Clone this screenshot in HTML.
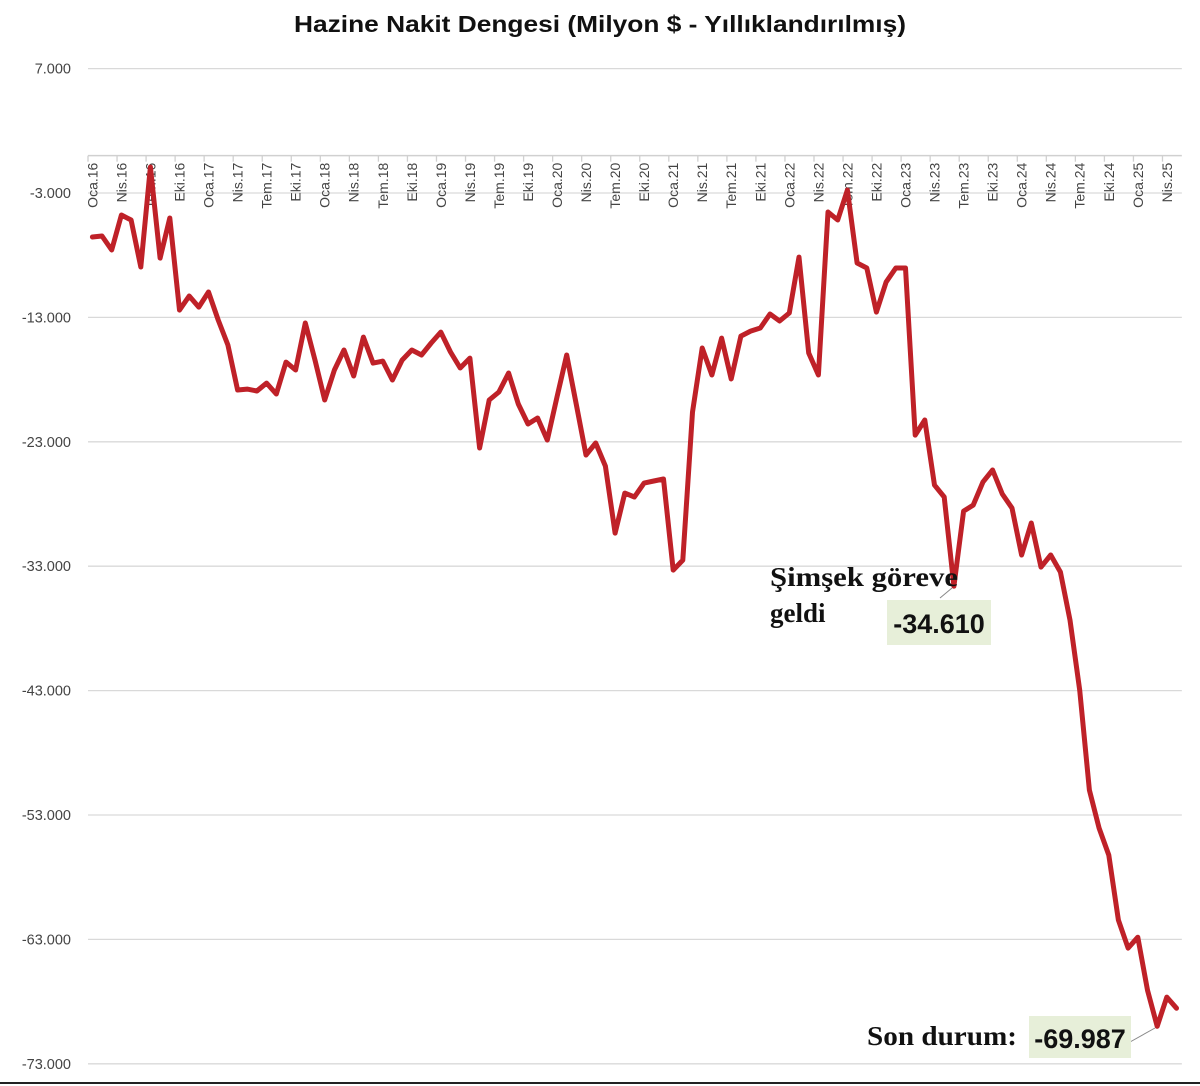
<!DOCTYPE html>
<html><head><meta charset="utf-8"><style>
html,body{margin:0;padding:0;background:#fff;}
body{width:1200px;height:1086px;position:relative;overflow:hidden;font-family:"Liberation Sans",sans-serif;}
svg{position:absolute;left:0;top:0;}
</style></head><body>
<svg id="chart" width="1200" height="1086" viewBox="0 0 1200 1086" xmlns="http://www.w3.org/2000/svg">
<text x="600" y="32" text-anchor="middle" font-family="Liberation Sans, sans-serif" font-weight="bold" font-size="23" fill="#111" textLength="612" lengthAdjust="spacingAndGlyphs">Hazine Nakit Dengesi  (Milyon $ - Yıllıklandırılmış)</text>
<g id="grid"></g>
<g id="yticks"></g>
<g id="xaxis"></g>
<path id="line" fill="none" stroke="#bf2128" stroke-width="5" stroke-linejoin="round" stroke-linecap="round"/>
<g>
<line x1="940" y1="598" x2="952" y2="588" stroke="#888" stroke-width="1"/>
<text x="770" y="586" font-family="Liberation Serif, serif" font-weight="bold" font-size="27" fill="#111" textLength="188" lengthAdjust="spacingAndGlyphs">Şimşek göreve</text>
<text x="770" y="622" font-family="Liberation Serif, serif" font-weight="bold" font-size="27" fill="#111">geldi</text>
<rect x="887" y="600" width="104" height="45" fill="#e7efd9"/>
<text x="939" y="633" text-anchor="middle" font-family="Liberation Sans, sans-serif" font-weight="bold" font-size="27" fill="#111">-34.610</text>
</g>
<g>
<line x1="1130" y1="1042" x2="1155" y2="1028" stroke="#888" stroke-width="1"/>
<text x="867" y="1045" font-family="Liberation Serif, serif" font-weight="bold" font-size="27" fill="#111" textLength="150" lengthAdjust="spacingAndGlyphs">Son durum:</text>
<rect x="1029" y="1016" width="102" height="42" fill="#e7efd9"/>
<text x="1080" y="1048" text-anchor="middle" font-family="Liberation Sans, sans-serif" font-weight="bold" font-size="27" fill="#111">-69.987</text>
</g>
<line x1="0" y1="1083" x2="1200" y2="1083" stroke="#222" stroke-width="2"/>
</svg>
<script>
const yTicks = [7000, -3000, -13000, -23000, -33000, -43000, -53000, -63000, -73000];
const yTickLabels = ["7.000","-3.000","-13.000","-23.000","-33.000","-43.000","-53.000","-63.000","-73.000"];
const monthNames = ["Oca","Nis","Tem","Eki"];
const values = [-6540,-6460,-7580,-4770,-5170,-8950,-910,-8230,-5010,-12410,-11280,-12170,
-10960,-13210,-15220,-18840,-18760,-18920,-18280,-19160,-16590,-17230,-13450,-16430,
-19640,-17230,-15620,-17710,-14580,-16670,-16510,-18030,-16430,-15620,-16020,-15060,
-14180,-15780,-17070,-16270,-23500,-19640,-19000,-17470,-19960,-21570,-21090,-22860,
-19400,-16020,-20040,-24060,-23100,-24950,-30340,-27120,-27440,-26320,-26150,-25990,
-33310,-32510,-20610,-15460,-17630,-14660,-17950,-14500,-14100,-13850,-12730,-13290,
-12650,-8150,-15860,-17630,-4530,-5170,-2760,-8630,-9030,-12570,-10160,-9030,
-9030,-22460,-21250,-26480,-27440,-34610,-28570,-28090,-26240,-25270,-27200,-28330,
-32100,-29530,-33070,-32100,-33470,-37330,-42960,-51000,-54050,-56220,-61450,-63700,
-62820,-67080,-69987,-67640,-68530];
const NS="http://www.w3.org/2000/svg";
const x0=88, step=9.68, nCat=113;
const yv = v => 193 - (v + 3000) * 0.01244;
const xc = i => x0 + step * (i + 0.45);
const grid=document.getElementById('grid'), yt=document.getElementById('yticks'), xa=document.getElementById('xaxis');
yTicks.forEach((v,k)=>{
  const l=document.createElementNS(NS,'line');
  
  
  l.setAttribute('x1',x0);l.setAttribute('x2',x0+step*nCat);
  l.setAttribute('y1',yv(v));l.setAttribute('y2',yv(v));
  l.setAttribute('stroke','#d9d9d9');l.setAttribute('stroke-width','1.3');
  grid.appendChild(l);
  const t=document.createElementNS(NS,'text');
  
  
  t.setAttribute('x',71);t.setAttribute('y',yv(v)+5);
  t.setAttribute('text-anchor','end');t.setAttribute('font-size','14.5');t.setAttribute('fill','#444');
  t.textContent=yTickLabels[k];
  yt.appendChild(t);
});
const ax=document.createElementNS(NS,'line');


ax.setAttribute('x1',x0);ax.setAttribute('x2',x0+step*nCat);
ax.setAttribute('y1',yv(0));ax.setAttribute('y2',yv(0));
ax.setAttribute('stroke','#d0d0d0');ax.setAttribute('stroke-width','1.5');
xa.appendChild(ax);
for(let i=0;i<nCat;i+=3){
  const tx=x0+step*i;
  const tk=document.createElementNS(NS,'line');
  
  
  tk.setAttribute('x1',tx);tk.setAttribute('x2',tx);tk.setAttribute('y1',yv(0));tk.setAttribute('y2',yv(0)+6);
  tk.setAttribute('stroke','#d0d0d0');tk.setAttribute('stroke-width','1.3');
  xa.appendChild(tk);
  const yr=16+Math.floor(i/12), m=monthNames[(i%12)/3];
  const t=document.createElementNS(NS,'text');
  
  
  const cx=xc(i)+5, cy=yv(0)+7;
  t.setAttribute('transform','translate('+cx+','+cy+') rotate(-90)');
  t.setAttribute('text-anchor','end');t.setAttribute('font-size','14');t.setAttribute('fill','#444');
  t.textContent=m+'.'+yr;
  xa.appendChild(t);
}
let d='';
values.forEach((v,i)=>{d+=(i?'L':'M')+xc(i).toFixed(1)+','+yv(v).toFixed(1);});
document.getElementById('line').setAttribute('d',d);
</script>
</body></html>
